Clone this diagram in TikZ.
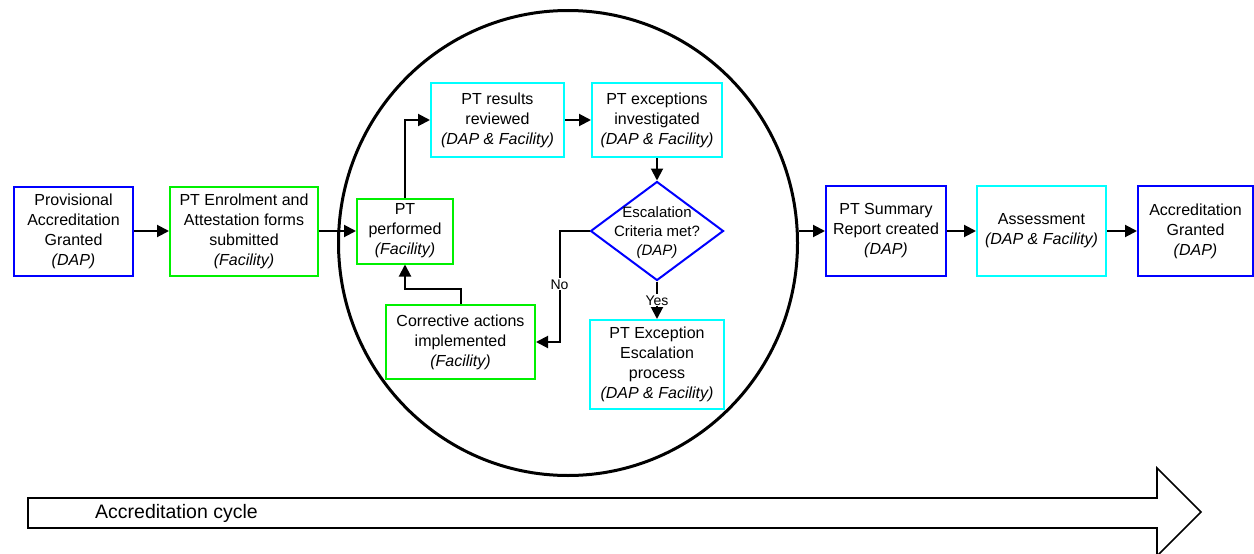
\documentclass[tikz,border=0pt]{standalone}
\usepackage{fontspec}
\setmainfont{Liberation Sans}
\usetikzlibrary{shapes.geometric,arrows.meta}
\definecolor{cblue}{RGB}{0,0,255}
\definecolor{cgreen}{RGB}{0,240,0}
\definecolor{ccyan}{RGB}{0,255,255}
\tikzset{
  box/.style={draw, line width=2pt, align=center, inner sep=0pt, font=\fontsize{16}{20}\selectfont},
  bluebox/.style={box, draw=cblue},
  greenbox/.style={box, draw=cgreen},
  cyanbox/.style={box, draw=ccyan},
  arr/.style={line width=2pt, -{Triangle[length=12pt,width=12pt]}},
  lbl/.style={fill=white, inner sep=1pt, font=\fontsize{14}{16}\selectfont},
}
\begin{document}
\begin{tikzpicture}[x=1pt,y=-1pt]
\useasboundingbox (0,0) rectangle (1254,554);
% big cycle arrow
\draw[line width=1.6pt] (28,498) -- (1157,498) -- (1157,468) -- (1201,512) -- (1157,556) -- (1157,528) -- (28,528) -- cycle;
\node[anchor=west, inner sep=0pt, font=\fontsize{19.5}{22}\selectfont] (cyclbl) at (95,513) {Accreditation cycle};
% circle
\node[draw, ellipse, line width=3pt, minimum width=459pt, minimum height=465pt, inner sep=0pt] (cyc) at (568,243) {};
% boxes
\node[bluebox, minimum width=119pt, minimum height=89pt] (prov) at (73.5,231) {Provisional\\Accreditation\\Granted\\\textit{(DAP)}};
\node[greenbox, minimum width=148pt, minimum height=89pt] (enrol) at (244,231) {PT Enrolment and\\Attestation forms\\submitted\\\textit{(Facility)}};
\node[greenbox, minimum width=96pt, minimum height=65pt] (perf) at (405,231) {PT\\performed\\\textit{(Facility)}};
\node[cyanbox, minimum width=133pt, minimum height=74pt] (res) at (497.5,120) {PT results\\reviewed\\\textit{(DAP \& Facility)}};
\node[cyanbox, minimum width=130pt, minimum height=74pt] (exc) at (657,120) {PT exceptions\\investigated\\\textit{(DAP \& Facility)}};
\node[draw=cblue, line width=2pt, diamond, minimum width=133pt, minimum height=99pt, inner sep=0pt] (dia) at (657,231) {};
\node[align=center, inner sep=0pt, font=\fontsize{15}{19}\selectfont] (diatext) at (657,233) {Escalation\\Criteria met?\\\textit{(DAP)}};
\node[greenbox, minimum width=149pt, minimum height=74pt] (corr) at (460.5,342) {Corrective actions\\implemented\\\textit{(Facility)}};
\node[cyanbox, minimum width=134pt, minimum height=89pt] (esc) at (657,364.5) {PT Exception\\Escalation\\process\\\textit{(DAP \& Facility)}};
\node[bluebox, minimum width=120pt, minimum height=90pt] (summ) at (886,231) {PT Summary\\Report created\\\textit{(DAP)}};
\node[cyanbox, minimum width=129pt, minimum height=90pt] (assess) at (1041.5,231) {Assessment\\\textit{(DAP \& Facility)}};
\node[bluebox, minimum width=115pt, minimum height=90pt] (accr) at (1195.5,231) {Accreditation\\Granted\\\textit{(DAP)}};
% connectors
\draw[arr] (prov.east) -- (enrol.west);
\draw[arr] (enrol.east) -- (perf.west);
\draw[arr] (perf.north) |- (res.west);
\draw[arr] (res.east) -- (exc.west);
\draw[arr] (exc.south) -- (dia.north);
\draw[arr] (dia.west) -- ++(-30,0) coordinate (nocorner) |- node[pos=0.24, lbl] {No} (corr.east);
\draw[arr] (dia.south) -- node[lbl] {Yes} (esc.north);
\draw[arr] (corr.north) -- ++(0,-15) -| (perf.south);
\draw[arr] (summ.west -| cyc.east) -- (summ.west);
\draw[arr] (summ.east) -- (assess.west);
\draw[arr] (assess.east) -- (accr.west);
\end{tikzpicture}
\end{document}
